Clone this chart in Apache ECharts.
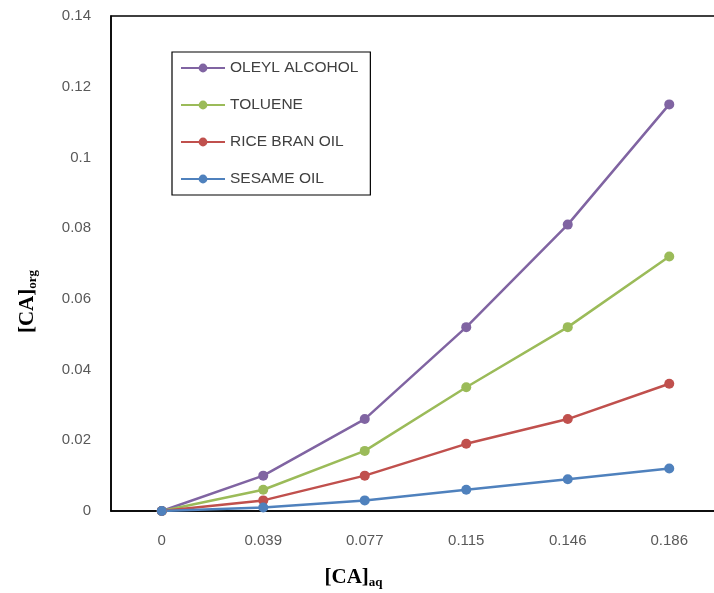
<!DOCTYPE html>
<html>
<head>
<meta charset="utf-8">
<script src="https://cdn.jsdelivr.net/npm/echarts@6/dist/echarts.min.js"></script>
<style>
  html, body { margin: 0; padding: 0; background: #fff; }
  #chart { width: 714px; height: 593px; }
</style>
</head>
<body>
<div id="chart"></div>
<script>
// x categories ([CA]aq)
var caAq = ['0', '0.039', '0.077', '0.115', '0.146', '0.186'];
// [CA]org per solvent
var oleylAlcohol = [0, 0.010, 0.026, 0.052, 0.081, 0.115];
var toluene      = [0, 0.006, 0.017, 0.035, 0.052, 0.072];
var riceBranOil  = [0, 0.003, 0.010, 0.019, 0.026, 0.036];
var sesameOil    = [0, 0.001, 0.003, 0.006, 0.009, 0.012];

var labelFont = 'Liberation Sans';

function makeSeries(name, data, color) {
    return {
        name: name,
        type: 'line',
        data: data,
        symbol: 'circle',
        symbolSize: 10,
        lineStyle: { color: color, width: 2.5 },
        itemStyle: { color: color },
        emphasis: { disabled: true }
    };
}

var option = {
    animation: false,
    grid: {
        left: 111, top: 16, bottom: 82, width: 609,
        outerBoundsMode: 'none',
        containLabel: false,
        show: true, borderColor: '#000', borderWidth: 1.5
    },
    legend: {
        orient: 'vertical',
        left: 172, top: 52,
        padding: [8, 12, 8, 8],
        itemGap: 21,
        itemWidth: 44, itemHeight: 11,
        borderColor: '#000', borderWidth: 1.2,
        backgroundColor: '#fff',
        textStyle: { fontFamily: labelFont, fontSize: 15.5, color: '#404040' },
        data: ['OLEYL ALCOHOL', 'TOLUENE', 'RICE BRAN OIL', 'SESAME OIL']
    },
    xAxis: {
        type: 'category',
        data: caAq,
        boundaryGap: true,
        axisLine: { lineStyle: { color: '#000', width: 1.5 } },
        axisTick: { show: false },
        axisLabel: { margin: 22, fontFamily: labelFont, fontSize: 15, color: '#595959' },
        name: '{b|[CA]}{s|aq}',
        nameLocation: 'middle',
        nameGap: 55,
        nameTextStyle: {
            padding: [0, 124, 0, 0],
            rich: {
                b: { fontFamily: 'Liberation Serif', fontWeight: 'bold', fontSize: 21, color: '#000' },
                s: { fontFamily: 'Liberation Serif', fontWeight: 'bold', fontSize: 13, color: '#000', padding: [10, 0, 0, 0] }
            }
        }
    },
    yAxis: {
        type: 'value',
        min: 0, max: 0.14, interval: 0.02,
        axisLine: { show: true, lineStyle: { color: '#000', width: 1.5 } },
        axisTick: { show: false },
        splitLine: { show: false },
        axisLabel: { margin: 20, fontFamily: labelFont, fontSize: 15, color: '#595959' },
        name: '{b|[CA]}{s|org}',
        nameLocation: 'middle',
        nameGap: 72,
        nameRotate: 90,
        nameTextStyle: {
            padding: [0, 76, 0, 0],
            rich: {
                b: { fontFamily: 'Liberation Serif', fontWeight: 'bold', fontSize: 21, color: '#000' },
                s: { fontFamily: 'Liberation Serif', fontWeight: 'bold', fontSize: 13, color: '#000', padding: [10, 0, 0, 0] }
            }
        }
    },
    series: [
        makeSeries('OLEYL ALCOHOL', oleylAlcohol, '#8064A2'),
        makeSeries('TOLUENE', toluene, '#9BBB59'),
        makeSeries('RICE BRAN OIL', riceBranOil, '#C0504D'),
        makeSeries('SESAME OIL', sesameOil, '#4F81BD')
    ]
};

var myChart = echarts.init(document.getElementById('chart'));
myChart.setOption(option);
</script>
</body>
</html>
